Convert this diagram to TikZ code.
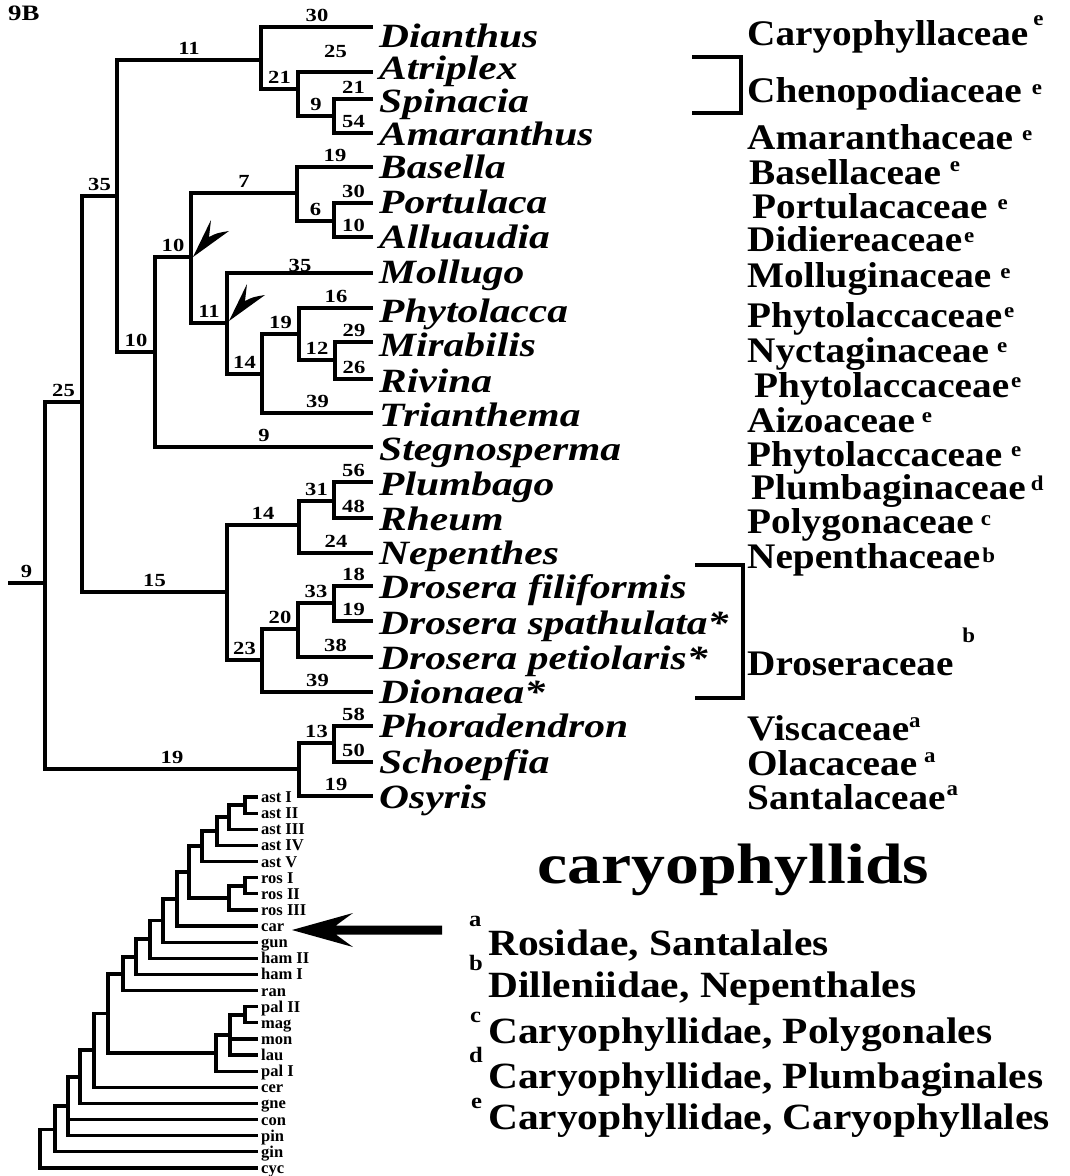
\documentclass[tikz,border=0pt]{standalone}
\usepackage{fontspec}
\setmainfont{Liberation Serif}
\newfontfamily\taxf[FakeStretch=1.22]{Liberation Serif}
\newfontfamily\famf[FakeStretch=1.09]{Liberation Serif}
\newfontfamily\numf[FakeStretch=1.22]{Liberation Serif}
\newfontfamily\bigf[FakeStretch=1.19]{Liberation Serif}
\newfontfamily\legf[FakeStretch=1.12]{Liberation Serif}
\newfontfamily\smallf[FakeStretch=1.0]{Liberation Serif}
\usetikzlibrary{calc}
\newcommand\fsup[3]{\hspace*{#1pt}\raisebox{#2pt}{\fontsize{21}{21}\selectfont #3}}
\begin{document}
\begin{tikzpicture}[x=1pt,y=-1pt,
 branch/.style={line width=4.5pt},
 sbranch/.style={line width=3.2pt},
 tax/.style={anchor=base west,inner sep=0pt,font=\taxf\fontsize{34}{34}\selectfont\bfseries\itshape},
 fam/.style={anchor=base west,inner sep=0pt,font=\famf\fontsize{36}{36}\selectfont\bfseries},
 lab/.style={pos=0.75,anchor=base,inner sep=0pt,yshift=5.5pt,font=\numf\fontsize{18.5}{18.5}\selectfont\bfseries},
 slab/.style={anchor=base west,inner sep=0pt,font=\smallf\fontsize{16.5}{16.5}\selectfont\bfseries},
 leg/.style={anchor=base west,inner sep=0pt,font=\legf\fontsize{37}{37}\selectfont\bfseries},
 legsup/.style={anchor=base west,inner sep=0pt,font=\legf\fontsize{22}{22}\selectfont\bfseries},
 bracketline/.style={line width=4.2pt},
]
\path[use as bounding box] (0,0) rectangle (1070,1176);

\node[anchor=base west,inner sep=0pt,font=\numf\fontsize{22}{22}\selectfont\bfseries] (title) at (8,20) {9B};

% ---------- taxa ----------
\foreach \nm/\y/\b/\txt in {
 Dia/27/47/Dianthus, Atr/72/79/Atriplex, Spi/99/112/Spinacia, Ama/133/145/Amaranthus,
 Bas/167/178/Basella, Por/203/213/Portulaca, All/237/248/Alluaudia, Mol/273/283/Mollugo,
 Phy/308/322/Phytolacca, Mir/342/356/Mirabilis, Riv/379/392/Rivina, Tri/413/426/Trianthema,
 Ste/447/460/Stegnosperma, Plu/482/495/Plumbago, Rhe/518/530/Rheum, Nep/553/564/Nepenthes,
 Dfi/586/598/Drosera filiformis, Dsp/621/634/Drosera spathulata*, Dpe/657/669/Drosera petiolaris*,
 Dio/692/703/Dionaea*, Pho/726/737/Phoradendron, Sch/762/773/Schoepfia, Osy/796/808/Osyris}
{
 \coordinate (t\nm) at (373,\y);
 \node[tax] (\nm) at (379,\b) {\txt};
}

% ---------- internal nodes ----------
\coordinate (stub) at (8,583);
\coordinate (root) at (45,583);
\coordinate (N25) at (82,402);
\coordinate (N35) at (117,196);
\coordinate (N11a) at (261,60);
\coordinate (N21a) at (298,89);
\coordinate (N9a) at (334,116);
\coordinate (N10b) at (155,352);
\coordinate (N10a) at (191,257);
\coordinate (N7) at (297,193);
\coordinate (N6) at (334,221);
\coordinate (N11b) at (227,323);
\coordinate (N14a) at (262,374);
\coordinate (N19a) at (299,334);
\coordinate (N12) at (335,360);
\coordinate (N15) at (227,592);
\coordinate (N14b) at (299,525);
\coordinate (N31) at (334,501);
\coordinate (N23) at (262,660);
\coordinate (N20) at (298,629);
\coordinate (N33) at (334,603);
\coordinate (N19b) at (299,769);
\coordinate (N13) at (334,743);

\draw[branch] (stub) -- node[lab,pos=0.5]{9} (root);
\foreach \p/\c/\l in {
 root/N25/25, root/N19b/19, N25/N35/35, N25/N15/15,
 N35/N11a/11, N35/N10b/10, N11a/tDia/30, N11a/N21a/21,
 N21a/N9a/9, N9a/tSpi/21, N9a/tAma/54,
 N10b/N10a/10, N10b/tSte/9, N10a/N7/7, N10a/N11b/11,
 N7/tBas/19, N7/N6/6, N6/tPor/30, N6/tAll/10,
 N11b/N14a/14, N14a/N19a/19, N14a/tTri/39,
 N19a/tPhy/16, N19a/N12/12, N12/tMir/29, N12/tRiv/26,
 N15/N14b/14, N15/N23/23, N14b/N31/31, N14b/tNep/24,
 N31/tPlu/56, N31/tRhe/48, N23/N20/20, N23/tDio/39,
 N20/N33/33, N20/tDpe/38, N33/tDfi/18, N33/tDsp/19,
 N19b/N13/13, N19b/tOsy/19, N13/tPho/58, N13/tSch/50}
{
 \draw[branch] (\p) |- node[lab]{\l} (\c);
}
\draw[branch] (N21a) |- node[lab,yshift=9pt]{25} (tAtr);
\draw[branch] (N11b) |- node[lab,yshift=-4pt]{35} (tMol);

% chevrons pointing at the two nodes
\coordinate (ch1) at ($(N10a)+(2,0)$);
\coordinate (ch2) at ($(N11b)+(2,-2)$);
\foreach \c in {ch1,ch2}
 \fill (\c) -- ($(\c)+(18,-37)$) .. controls ($(\c)+(17,-28)$) .. ($(\c)+(16,-20)$)
   .. controls ($(\c)+(24,-24)$) .. ($(\c)+(36,-26)$) -- cycle;

% ---------- families ----------
\node[fam] (fCar) at (747,45) {Caryophyllaceae\fsup{5}{20}{e}};
\node[fam] (fChe) at (747,102) {Chenopodiaceae\fsup{10}{8}{e}};
\node[fam] (fAma) at (747,149) {Amaranthaceae\fsup{9}{9}{e}};
\node[fam] (fBas) at (749,184) {Basellaceae\fsup{9}{13}{e}};
\node[fam] (fPor) at (752,218) {Portulacaceae\fsup{10}{9}{e}};
\node[fam] (fDid) at (747,251) {Didiereaceae\fsup{2}{9}{e}};
\node[fam] (fMol) at (747,287) {Molluginaceae\fsup{9}{9}{e}};
\node[fam] (fPhy1) at (747,327) {Phytolaccaceae\fsup{2}{10}{e}};
\node[fam] (fNyc) at (747,362) {Nyctaginaceae\fsup{8}{10}{e}};
\node[fam] (fPhy2) at (754,397) {Phytolaccaceae\fsup{2}{10}{e}};
\node[fam] (fAiz) at (747,432) {Aizoaceae\fsup{7}{10}{e}};
\node[fam] (fPhy3) at (747,466) {Phytolaccaceae\fsup{9}{10}{e}};
\node[fam] (fPlu) at (751,499) {Plumbaginaceae\fsup{5}{9}{d}};
\node[fam] (fPol) at (747,533) {Polygonaceae\fsup{7}{8}{c}};
\node[fam] (fNep) at (747,568) {Nepenthaceae\fsup{2}{6}{b}};
\node[fam] (fDro) at (747,675) {Droseraceae\fsup{9}{33}{b}};
\node[fam] (fVis) at (747,740) {Viscaceae\fsup{0}{13}{a}};
\node[fam] (fOla) at (747,775) {Olacaceae\fsup{7}{13}{a}};
\node[fam] (fSan) at (747,809) {Santalaceae\fsup{1}{14}{a}};

% brackets
\coordinate (cb1) at (692,57);
\coordinate (cb2) at (692,113);
\draw[bracketline] (cb1) -- ++(49,0) |- (cb2);
\coordinate (db1) at (695,565);
\coordinate (db2) at (695,698);
\draw[bracketline] (db1) -- ++(48,0) |- (db2);

% ---------- small tree ----------
\foreach \n [count=\i from 0] in {ast I,ast II,ast III,ast IV,ast V,ros I,ros II,ros III,car,gun,ham II,ham I,ran,pal II,mag,mon,lau,pal I,cer,gne,con,pin,gin,cyc}
{
 \coordinate (s\i) at (258,{797+16.13*\i});
 \node[slab] (l\i) at (261,{802.5+16.13*\i}) {\n};
}
\coordinate (A1) at (245,805);
\coordinate (A2) at (229,817);
\coordinate (A3) at (217,831);
\coordinate (A4) at (202,846);
\coordinate (R1) at (245,886);
\coordinate (R2) at (229,898);
\coordinate (AR) at (189,872);
\coordinate (C) at (177,899);
\coordinate (G) at (163,920.5);
\coordinate (H2) at (150,939);
\coordinate (H1) at (136,957);
\coordinate (RA) at (123,974);
\coordinate (P1) at (245,1015);
\coordinate (P2) at (230,1035);
\coordinate (P3) at (216,1053);
\coordinate (M) at (108,1013.5);
\coordinate (CE) at (94,1050);
\coordinate (GN) at (80,1077);
\coordinate (CO) at (68,1106);
\coordinate (GI) at (55,1129.5);
\coordinate (SR) at (40,1149);
\foreach \p/\c in {A1/s0,A1/s1,A2/A1,A2/s2,A3/A2,A3/s3,A4/A3,A4/s4,
 R1/s5,R1/s6,R2/R1,R2/s7,AR/A4,AR/R2,C/AR,C/s8,G/C,G/s9,H2/G,H2/s10,
 H1/H2,H1/s11,RA/H1,RA/s12,P1/s13,P1/s14,P2/P1,P2/s15,P2/s16,P3/P2,P3/s17,
 M/RA,M/P3,CE/M,CE/s18,GN/CE,GN/s19,CO/GN,CO/s20,CO/s21,GI/CO,GI/s22,SR/GI,SR/s23}
 \draw[sbranch] (\p) |- (\c);

% big arrow to car
\coordinate (atip) at (292,930);
\coordinate (atail) at (442,930);
\fill (atip) -- ($(atip)+(61,-17)$) .. controls ($(atip)+(50,-9)$) .. ($(atip)+(44,-4.5)$) -- ($(atail)+(0,-4.5)$)
 -- ($(atail)+(0,4.5)$) -- ($(atip)+(44,4.5)$) .. controls ($(atip)+(50,9)$) .. ($(atip)+(61,17)$) -- cycle;

% ---------- legend ----------
\node[anchor=base west,inner sep=0pt,font=\bigf\fontsize{57}{57}\selectfont\bfseries] (cary) at (537,883) {caryophyllids};
\node[leg] (la) at (488,955) {Rosidae, Santalales};
\node[leg] (lb) at (488,997) {Dilleniidae, Nepenthales};
\node[leg] (lc) at (488,1043) {Caryophyllidae, Polygonales};
\node[leg] (ld) at (488,1088) {Caryophyllidae, Plumbaginales};
\node[leg] (le) at (488,1129) {Caryophyllidae, Caryophyllales};
\node[legsup] (sa) at (469,926) {a};
\node[legsup] (sb) at (469,970) {b};
\node[legsup] (sc) at (470,1022) {c};
\node[legsup] (sd) at (469,1062) {d};
\node[legsup] (se) at (471,1108) {e};
\end{tikzpicture}
\end{document}
